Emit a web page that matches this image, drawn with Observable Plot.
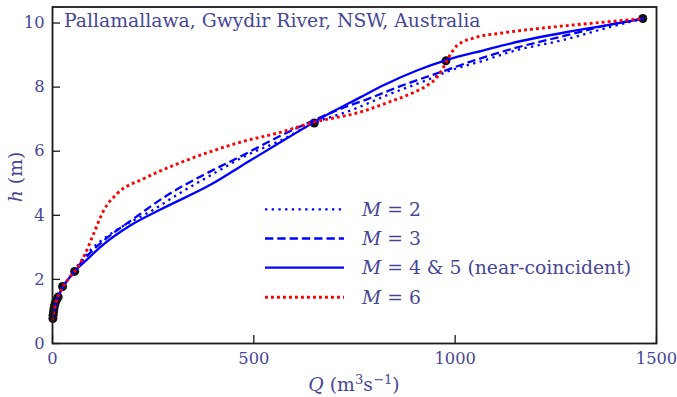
<!DOCTYPE html>
<html>
<head>
<meta charset="utf-8">
<script src="https://cdn.jsdelivr.net/npm/d3@7"></script>
<script src="https://cdn.jsdelivr.net/npm/@observablehq/plot@0.6"></script>
<style>
  html, body { margin: 0; padding: 0; background: white; }
  #chart svg { display: block; }
</style>
</head>
<body>
<div id="chart"></div>
<script>
// ---- data ----
const titleText = "Pallamallawa, Gwydir River, NSW, Australia";
const xTicks = [0, 500, 1000, 1500];
const yTicks = [0, 2, 4, 6, 8, 10];

// observed gaugings
const obsQ = [1, 1.5, 2.5, 3.5, 5, 7, 10, 14, 25, 55, 650, 977, 1466];
const obsH = [0.78, 0.88, 0.98, 1.08, 1.18, 1.27, 1.36, 1.45, 1.78, 2.25, 6.88, 8.82, 10.14];

// M = 2
const m2Q = [0, 3, 7, 12, 20, 30, 42, 55, 80, 120, 160, 243, 320, 400, 480, 566, 650, 740, 839, 938, 988, 1071, 1137, 1278, 1377, 1468];
const m2H = [0.72, 0.95, 1.2, 1.42, 1.62, 1.85, 2.06, 2.3, 2.72, 3.2, 3.55, 4.12, 4.72, 5.3, 5.86, 6.33, 6.88, 7.27, 7.79, 8.26, 8.52, 8.83, 9.1, 9.5, 9.85, 10.14];

// M = 3
const m3Q = [0, 3, 7, 12, 20, 30, 42, 55, 80, 127, 201, 284, 375, 466, 566, 648, 715, 781, 864, 971, 1071, 1137, 1278, 1377, 1468];
const m3H = [0.72, 0.95, 1.2, 1.42, 1.62, 1.85, 2.05, 2.27, 2.65, 3.21, 3.89, 4.62, 5.26, 5.83, 6.48, 6.96, 7.32, 7.62, 8.03, 8.5, 8.93, 9.18, 9.62, 9.93, 10.14];

// M = 4 & 5
const m45Q = [0, 3, 7, 12, 20, 30, 42, 55, 80, 118, 193, 268, 392, 491, 615, 648, 764, 822, 905, 980, 1071, 1137, 1278, 1400, 1468];
const m45H = [0.72, 0.95, 1.2, 1.42, 1.62, 1.85, 2.05, 2.25, 2.55, 3.0, 3.68, 4.18, 4.95, 5.71, 6.65, 6.9, 7.68, 8.06, 8.52, 8.85, 9.15, 9.36, 9.72, 9.98, 10.14];

// M = 6
const m6Q = [0, 3, 7, 12, 20, 30, 42, 55, 77, 102, 127, 160, 226, 309, 384, 466, 566, 648, 764, 839, 900, 930, 955, 971, 984, 1005, 1054, 1112, 1200, 1278, 1380, 1468];
const m6H = [0.72, 0.95, 1.2, 1.42, 1.62, 1.85, 2.05, 2.25, 2.69, 3.42, 4.15, 4.67, 5.14, 5.6, 5.95, 6.28, 6.59, 6.9, 7.22, 7.55, 7.85, 8.05, 8.31, 8.62, 8.93, 9.3, 9.56, 9.68, 9.82, 9.92, 10.04, 10.14];

const legendLabels = [["M", " = 2"], ["M", " = 3"], ["M", " = 4 & 5 (near-coincident)"], ["M", " = 6"]];

// ---- styles ----
const textColor = "#464696";
const FONT = "'DejaVu Serif', serif";
const FS = 18.8;      // title, legend, axis labels
const TFS = 16.3;     // tick labels
const series = [
  {Q: m2Q, H: m2H, stroke: "#0000ff", width: 2.3, dash: "2.3,4.4"},
  {Q: m3Q, H: m3H, stroke: "#0000ff", width: 2.3, dash: "8.3,4"},
  {Q: m45Q, H: m45H, stroke: "#0000ff", width: 2.3, dash: null},
  {Q: m6Q, H: m6H, stroke: "#ff0000", width: 2.9, dash: "2.9,3.1"}
];

const toRows = (Q, H) => Q.map((q, i) => ({Q: q, h: H[i]}));

const marks = [
  Plot.dot(toRows(obsQ, obsH), {x: "Q", y: "h", r: 4.5, fill: "#111", stroke: "none"}),
  ...series.map(s => Plot.line(toRows(s.Q, s.H), {
    x: "Q", y: "h", curve: "monotone-x", stroke: s.stroke, strokeWidth: s.width,
    strokeDasharray: s.dash ?? undefined, strokeLinecap: "butt"
  })),
  Plot.frame({stroke: "#1a1a1a", strokeWidth: 1.8}),
  Plot.axisX({ticks: xTicks, tickSize: -8, text: null, label: null, stroke: "#1a1a1a", strokeWidth: 1.3}),
  Plot.axisX({ticks: xTicks, tickSize: 0, tickPadding: 9, label: null, tickFormat: d3.format("d"), fill: textColor, fontSize: TFS}),
  Plot.axisY({ticks: yTicks, tickSize: -8, text: null, label: null, stroke: "#1a1a1a", strokeWidth: 1.3}),
  Plot.axisY({ticks: yTicks, tickSize: 0, tickPadding: 8, label: null, tickFormat: d3.format("d"), fill: textColor, fontSize: TFS})
];

const chart = Plot.plot({
  width: 677, height: 397,
  marginLeft: 52, marginRight: 21, marginTop: 6.5, marginBottom: 54,
  x: {domain: [0, 1500]},
  y: {domain: [0, 10.5]},
  style: {fontFamily: FONT, fontSize: TFS + "px", color: textColor, background: "white"},
  marks
});
document.getElementById("chart").appendChild(chart);

// ---- annotations (title, axis labels, legend) ----
const svg = d3.select(chart);
const ann = svg.append("g").attr("font-family", FONT).attr("font-size", FS)
  .attr("fill", textColor).attr("text-anchor", "start");

ann.append("text").attr("x", 64).attr("y", 27).text(titleText);

// y label: h (m)
const yl = ann.append("text").attr("transform", "translate(22,177) rotate(-90)").attr("text-anchor", "middle");
yl.append("tspan").attr("font-style", "italic").text("h");
yl.append("tspan").text(" (m)");

// x label: Q (m3 s-1)
const xl = ann.append("text").attr("x", 354).attr("y", 391).attr("text-anchor", "middle");
xl.append("tspan").attr("font-style", "italic").text("Q");
xl.append("tspan").text(" (m");
xl.append("tspan").attr("font-size", FS * 0.7).attr("dy", -7.5).text("3");
xl.append("tspan").attr("dy", 7.5).text("s");
xl.append("tspan").attr("font-size", FS * 0.7).attr("dy", -7.5).text("\u22121");
xl.append("tspan").attr("dy", 7.5).text(")");

// legend
const rowY = [209.3, 238.5, 267.7, 297.2];
series.forEach((s, i) => {
  ann.append("line").attr("x1", 265).attr("x2", 344).attr("y1", rowY[i]).attr("y2", rowY[i])
    .attr("stroke", s.stroke).attr("stroke-width", s.width)
    .attr("stroke-dasharray", s.dash).attr("fill", "none");
  const t = ann.append("text").attr("x", 362).attr("y", rowY[i] + 6.6);
  t.append("tspan").attr("font-style", "italic").text(legendLabels[i][0]);
  t.append("tspan").text(legendLabels[i][1]);
});
</script>
</body>
</html>
